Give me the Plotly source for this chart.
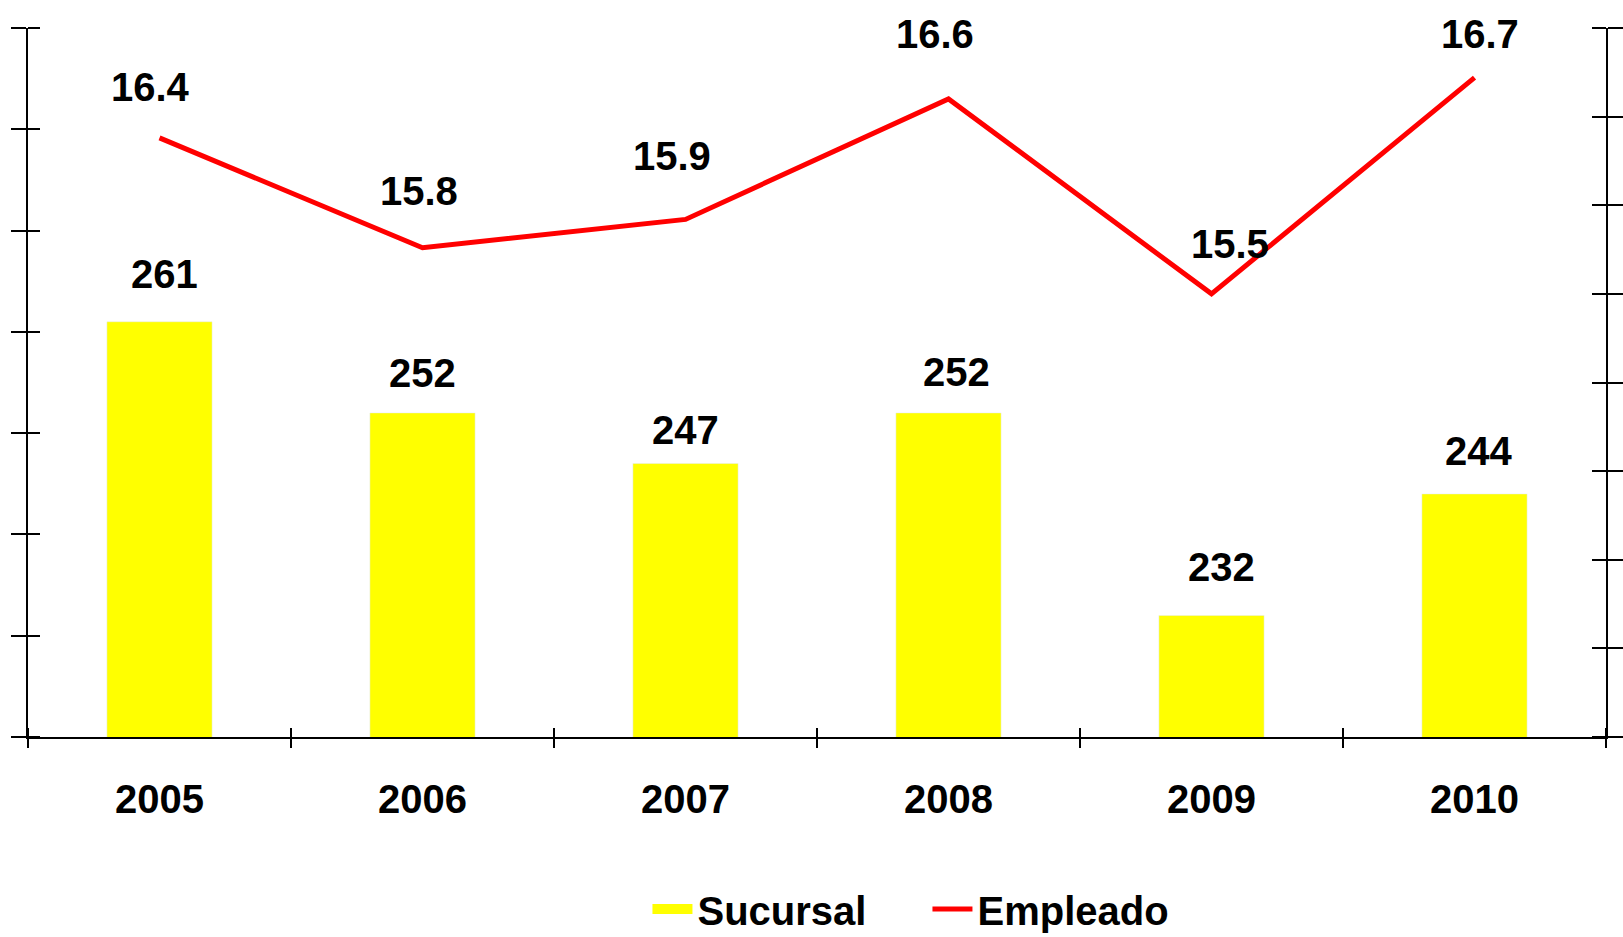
import plotly.graph_objects as go

years = [2005, 2006, 2007, 2008, 2009, 2010]
sucursal = [261, 252, 247, 252, 232, 244]
empleado = [16.38, 15.76, 15.92, 16.6, 15.5, 16.72]

# label offsets in px (as placed in the original chart)
bar_label_dx = [5, 0, 0, 8, 10, 4]
bar_label_dy = [48, 40, 34, 41, 48, 43]
line_label_dx = [-9, -4, -14, -14, 18, 5]
line_label_dy = [51, 57, 63, 65, 50, 44]

FONT = "Liberation Sans, Arial, sans-serif"
big_bold = dict(family=FONT, size=40, color="black", weight="bold")

fig = go.Figure()
fig.add_trace(go.Bar(x=years, y=sucursal, name="Sucursal", width=0.4,
                     marker_color="#FFFF00", showlegend=False, xaxis="x", yaxis="y"))
# legend entry drawn as a wide yellow block
fig.add_trace(go.Scatter(x=[None], y=[None], name="Sucursal", mode="lines",
                         line=dict(color="#FFFF00", width=18), xaxis="x", yaxis="y"))
fig.add_trace(go.Scatter(x=years, y=empleado, name="Empleado", mode="lines",
                         line=dict(color="#FF0000", width=5),
                         xaxis="x2", yaxis="y2"))

# data labels
for yr, v, dx, dy in zip(years, sucursal, bar_label_dx, bar_label_dy):
    fig.add_annotation(x=yr, y=v, xref="x", yref="y", text=str(v),
                       showarrow=False, yshift=dy, xshift=dx, font=big_bold)
for yr, v, dx, dy in zip(years, empleado, line_label_dx, line_label_dy):
    fig.add_annotation(x=yr, y=v, xref="x2", yref="y2", text=f"{v:.1f}",
                       showarrow=False, yshift=dy, xshift=dx, font=big_bold)

tick_style = dict(tickcolor="black", tickwidth=2)
axis_common = dict(showgrid=False, zeroline=False, linecolor="black", linewidth=2,
                   **tick_style)
xr = [years[0] - 0.5, years[-1] + 0.5]

fig.update_layout(
    width=1623, height=937,
    margin=dict(l=28, r=17, t=28, b=200, autoexpand=False),
    plot_bgcolor="white", paper_bgcolor="white",
    font=dict(family=FONT, color="black"),
    showlegend=True,
    legend=dict(orientation="h", x=0.570, xanchor="center", y=-0.2425, yanchor="middle",
                font=big_bold, entrywidth=225, itemwidth=40, tracegroupgap=0),
    # boundary ticks crossing the x axis line
    xaxis=dict(axis_common, range=xr, tick0=xr[0], dtick=1, ticks="outside",
               ticklen=9, showline=True, showticklabels=False,
               minor=dict(ticks="inside", tick0=xr[0], dtick=1, ticklen=9, **tick_style)),
    # year labels at category centres
    xaxis2=dict(axis_common, range=xr, overlaying="x", anchor="y2", tickvals=years,
                ticks="", showline=False, tickfont=big_bold, ticklabelstandoff=35),
    yaxis=dict(axis_common, range=[220, 290], dtick=10, ticks="outside", ticklen=15,
               showline=True, showticklabels=False,
               minor=dict(ticks="inside", dtick=10, ticklen=12, **tick_style)),
    yaxis2=dict(axis_common, range=[13, 17], dtick=0.5, ticks="outside", ticklen=15,
                overlaying="y", side="right", showline=True, showticklabels=False,
                minor=dict(ticks="inside", dtick=0.5, ticklen=14, **tick_style)),
)

fig.write_html("out.html", config={"displayModeBar": False},
               post_script="document.body.style.margin='0';")
